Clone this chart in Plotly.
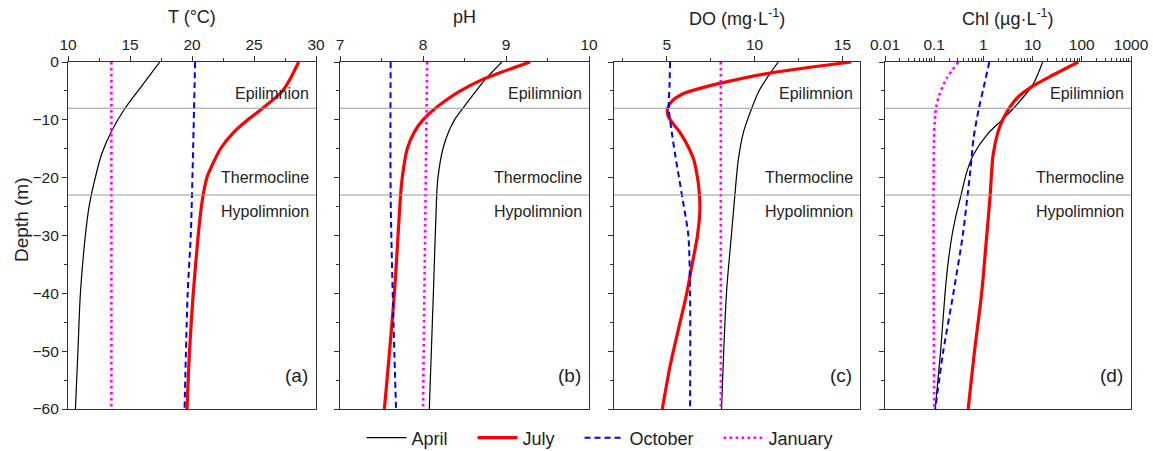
import plotly.graph_objects as go

W, H = 1153, 451
FONT = "Arial, Liberation Sans, sans-serif"

# ---------------- data (depth in m) ----------------
# (a) Temperature (°C)
T_apr_d = [0, -4, -8, -12, -16, -20, -25, -30, -40, -50, -60]
T_apr_v = [17.4, 16.0, 14.6, 13.5, 12.7, 12.2, 11.7, 11.4, 11.0, 10.8, 10.6]
T_jul_d = [0, -3, -5, -8, -10, -12.3, -15, -17.5, -20, -23, -26, -30, -40, -50, -60]
T_jul_v = [28.6, 27.9, 27.3, 25.7, 24.5, 23.3, 22.3, 21.7, 21.2, 20.9, 20.7, 20.5, 20.1, 19.8, 19.6]
T_oct_d = [0, -23, -30, -40, -60]
T_oct_v = [20.25, 20.0, 19.9, 19.65, 19.4]
T_jan_d = [0, -60]
T_jan_v = [13.5, 13.5]

# (b) pH
pH_apr_d = [0, -3, -5, -8, -10, -12, -15, -20, -23, -40, -60]
pH_apr_v = [8.95, 8.75, 8.64, 8.48, 8.38, 8.31, 8.24, 8.18, 8.165, 8.125, 8.076]
pH_jul_d = [0, -2, -3, -5, -7, -8, -10, -12, -15, -20, -23, -40, -60]
pH_jul_v = [9.29, 8.9, 8.72, 8.45, 8.24, 8.15, 8.0, 7.9, 7.81, 7.75, 7.73, 7.655, 7.535]
pH_oct_d = [0, -23, -40, -60]
pH_oct_v = [7.61, 7.61, 7.635, 7.675]
pH_jan_d = [0, -60]
pH_jan_v = [8.05, 8.0]

# (c) Dissolved oxygen (mg/L)
DO_apr_d = [0, -2, -5, -8, -12, -17, -23, -30, -40, -60]
DO_apr_v = [11.35, 10.88, 10.25, 9.84, 9.38, 9.07, 8.88, 8.68, 8.4, 8.12]
DO_jul_d = [0, -2, -3.7, -4.6, -5.4, -6.6, -8, -9.5, -12.3, -14.7, -17, -19.8, -22.1,
            -25.6, -30.2, -35.4, -40, -46.3, -52.6, -60]
DO_jul_v = [15.5, 10.7, 8.0, 6.85, 6.0, 5.35, 5.05, 5.1, 5.78, 6.23, 6.55, 6.74, 6.84,
            6.89, 6.74, 6.42, 6.14, 5.66, 5.19, 4.75]
DO_oct_d = [0, -4, -8, -12, -16, -20, -24, -30, -40, -60]
DO_oct_v = [5.19, 5.16, 5.12, 5.28, 5.48, 5.7, 5.92, 6.23, 6.33, 6.33]
DO_jan_d = [0, -60]
DO_jan_v = [8.08, 8.08]

# (d) Chlorophyll (µg/L)
Chl_apr_d = [0, -4, -8, -10, -12.5, -16, -19, -23.5, -27, -30, -35, -40, -50, -60]
Chl_apr_v = [16, 10, 4.1, 2.4, 1.2, 0.63, 0.46, 0.34, 0.27, 0.23, 0.19, 0.166, 0.135, 0.105]
Chl_jul_d = [0, -2.25, -4.3, -6.3, -9.75, -12, -16, -23.5, -30, -40, -50, -60]
Chl_jul_v = [85, 26, 9.5, 4.75, 2.54, 2.0, 1.58, 1.36, 1.17, 0.92, 0.66, 0.49]
Chl_oct_d = [0, -4.6, -8, -13.2, -19, -23.5, -30, -40, -50, -60]
Chl_oct_v = [1.32, 1.0, 0.81, 0.63, 0.54, 0.47, 0.38, 0.245, 0.153, 0.105]
Chl_jan_d = [0, -2.8, -5.7, -8, -12, -60]
Chl_jan_v = [0.31, 0.18, 0.127, 0.109, 0.1, 0.1]

months = ["April", "July", "October", "January"]
panel_titles = ["T (°C)", "pH", "DO (mg·L<sup>-1</sup>)", "Chl (µg·L<sup>-1</sup>)"]
panel_tags = ["(a)", "(b)", "(c)", "(d)"]
layer_names = ["Epilimnion", "Thermocline", "Hypolimnion"]
layer_label_depths = [-5.4, -20.0, -25.8]
layer_bounds = [-8, -23]

panel_data = [
    [(T_apr_d, T_apr_v), (T_jul_d, T_jul_v), (T_oct_d, T_oct_v), (T_jan_d, T_jan_v)],
    [(pH_apr_d, pH_apr_v), (pH_jul_d, pH_jul_v), (pH_oct_d, pH_oct_v), (pH_jan_d, pH_jan_v)],
    [(DO_apr_d, DO_apr_v), (DO_jul_d, DO_jul_v), (DO_oct_d, DO_oct_v), (DO_jan_d, DO_jan_v)],
    [(Chl_apr_d, Chl_apr_v), (Chl_jul_d, Chl_jul_v), (Chl_oct_d, Chl_oct_v), (Chl_jan_d, Chl_jan_v)],
]

styles = {
    "April": dict(color="#000000", width=1.2, dash="solid"),
    "July": dict(color="#FF0000", width=3.2, dash="solid"),
    "October": dict(color="#0000FF", width=2, dash="6px,4px"),
    "January": dict(color="#FF00FF", width=2.6, dash="2.6px,3.4px"),
}

NB = "\u00a0"
legend_pad = {"April": 4, "July": 4, "October": 4, "January": 0}

# panel pixel extents
px_left = [68, 340, 614, 885]
px_right = [316, 589, 860, 1131]
px_top, px_bot = 62, 409

fig = go.Figure()

for p in range(4):
    sfx = "" if p == 0 else str(p + 1)
    for m, (d, v) in zip(months, panel_data[p]):
        fig.add_trace(go.Scatter(
            x=v, y=d, mode="lines", name=m + NB * legend_pad[m], legendgroup=m,
            showlegend=(p == 0),
            line=dict(shape="spline", smoothing=0.8, **styles[m]),
            xaxis="x" + sfx, yaxis="y" + sfx,
        ))

ydom = [1 - px_bot / H, 1 - px_top / H]
axis_common = dict(
    showline=True, linecolor="#333333", linewidth=1.3, mirror=True,
    ticks="outside", ticklen=5, tickwidth=1.2, tickcolor="#333333",
    showgrid=False, zeroline=False, automargin=False,
    tickfont=dict(family=FONT, size=15.5, color="#222222"),
)
minor_common = dict(ticks="outside", ticklen=3, tickcolor="#333333", tickwidth=1.1)

xdefs = [
    dict(range=[10, 30], tickvals=[10, 15, 20, 25, 30],
         minor=dict(tickvals=[12.5, 17.5, 22.5, 27.5], **minor_common)),
    dict(range=[7, 10], tickvals=[7, 8, 9, 10],
         minor=dict(tickvals=[7.5, 8.5, 9.5], **minor_common)),
    dict(range=[2, 16], tickvals=[5, 10, 15],
         minor=dict(tickvals=[2.5, 7.5, 12.5], **minor_common)),
    dict(type="log", range=[-2, 3],
         tickvals=[0.01, 0.1, 1, 10, 100, 1000],
         ticktext=["0.01", "0.1", "1", "10", "100", "1000"],
         minor=dict(tickvals=[k * 10 ** e for e in range(-2, 3) for k in range(2, 10)],
                    **minor_common)),
]

layout = {}
for p in range(4):
    sfx = "" if p == 0 else str(p + 1)
    xd = dict(axis_common)
    xd.update(xdefs[p])
    xd.update(domain=[px_left[p] / W, px_right[p] / W], anchor="y" + sfx, side="top")
    layout["xaxis" + sfx] = xd
    yd = dict(axis_common)
    yd.update(domain=ydom, anchor="x" + sfx, range=[-60, 0],
              tickvals=[0, -10, -20, -30, -40, -50, -60],
              minor=dict(tickvals=[-5, -15, -25, -35, -45, -55], **minor_common),
              showticklabels=(p == 0))
    layout["yaxis" + sfx] = yd

fig.update_layout(**layout)

shapes = []
annotations = []
for p in range(4):
    sfx = "" if p == 0 else str(p + 1)
    for b in layer_bounds:
        shapes.append(dict(type="line", xref="x" + sfx + " domain", yref="y" + sfx,
                           x0=0, x1=1, y0=b, y1=b, line=dict(color="#9a9a9a", width=1)))
    for name, yd in zip(layer_names, layer_label_depths):
        annotations.append(dict(text=name, xref="x" + sfx + " domain", yref="y" + sfx,
                                x=1, y=yd, xanchor="right", yanchor="middle", xshift=-5,
                                showarrow=False, font=dict(family=FONT, size=16, color="#222222")))
    annotations.append(dict(text=panel_tags[p], xref="x" + sfx + " domain", yref="y" + sfx,
                            x=1, y=-54.2, xanchor="right", yanchor="middle", xshift=-6,
                            showarrow=False, font=dict(family=FONT, size=19, color="#222222")))
    annotations.append(dict(text=panel_titles[p], xref="paper", yref="paper",
                            x=(px_left[p] + px_right[p]) / 2 / W, y=1 - 17 / H,
                            xanchor="center", yanchor="middle", showarrow=False,
                            font=dict(family=FONT, size=18, color="#222222")))

annotations.append(dict(text="Depth (m)", xref="paper", yref="paper",
                        x=21 / W, y=1 - 220 / H, xanchor="center", yanchor="middle",
                        textangle=-90, showarrow=False,
                        font=dict(family=FONT, size=19, color="#222222")))

fig.update_layout(
    width=W, height=H,
    margin=dict(l=0, r=0, t=0, b=0, autoexpand=False),
    paper_bgcolor="white", plot_bgcolor="white",
    shapes=shapes, annotations=annotations,
    legend=dict(orientation="h", x=600 / W, xanchor="center", y=1 - 438 / H, yanchor="middle",
                font=dict(family=FONT, size=18, color="#222222"), bgcolor="rgba(0,0,0,0)",
                itemwidth=40, tracegroupgap=0),
    font=dict(family=FONT),
)

fig.write_html("out.html")
